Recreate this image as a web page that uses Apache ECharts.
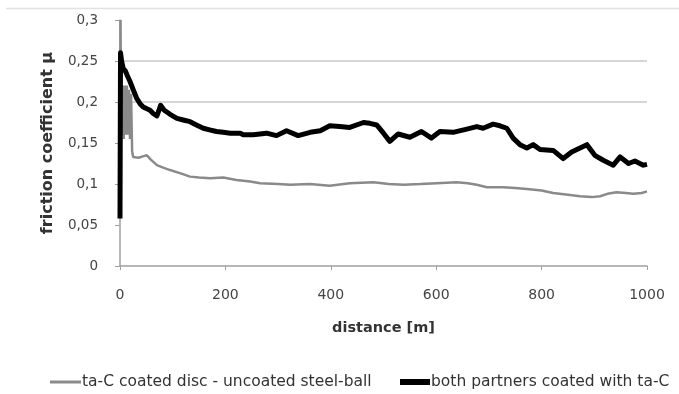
<!DOCTYPE html>
<html>
<head>
<meta charset="utf-8">
<style>
html,body{margin:0;padding:0;background:#fff;}
#chart{width:679px;height:394px;}
</style>
<script src="https://cdn.jsdelivr.net/npm/echarts@6/dist/echarts.min.js"></script>
</head>
<body>
<div id="chart"></div>
<script>
// ---- data ----
const seriesNames = ['ta-C coated disc - uncoated steel-ball', 'both partners coated with ta-C'];
const xTickValues = [0, 200, 400, 600, 800, 1000];
const yTickLabels = ['0', '0,05', '0,1', '0,15', '0,2', '0,25', '0,3'];

const distGray = [0,1,2,3,5,7,9,11,13,15,17,19,21,23,25,35,45,51,58,70,82,95,115,133,150,171,196,221,247,266,300,323,360,398,436,481,510,538,570,601,639,660,677,696,727,750,772,800,822,850,873,895,911,925,942,960,974,990,1000];
const muGray = [0.06,0.3,0.2,0.16,0.22,0.155,0.22,0.16,0.22,0.16,0.215,0.155,0.21,0.14,0.133,0.132,0.134,0.135,0.13,0.123,0.12,0.117,0.113,0.109,0.108,0.107,0.108,0.105,0.103,0.101,0.1,0.099,0.1,0.098,0.101,0.102,0.1,0.099,0.1,0.101,0.102,0.101,0.099,0.096,0.096,0.095,0.094,0.092,0.089,0.087,0.085,0.084,0.085,0.088,0.09,0.089,0.088,0.089,0.091];

const distBlack = [0,1,3,6,10,14,19,25,32,38,44,50,57,63,70,74,77,80,84,95,108,120,133,145,158,170,183,196,209,228,234,253,278,297,316,338,361,380,398,417,436,462,474,487,500,512,528,550,572,591,607,632,658,677,689,708,721,734,746,759,772,784,797,822,841,857,873,886,901,917,936,949,965,977,993,1000];
const muBlack = [0.058,0.26,0.25,0.241,0.238,0.232,0.225,0.215,0.204,0.198,0.194,0.192,0.19,0.186,0.183,0.19,0.196,0.194,0.19,0.185,0.18,0.178,0.176,0.172,0.168,0.166,0.164,0.163,0.162,0.162,0.16,0.16,0.162,0.159,0.165,0.159,0.163,0.165,0.171,0.17,0.169,0.175,0.174,0.172,0.162,0.152,0.161,0.157,0.164,0.156,0.164,0.163,0.167,0.17,0.168,0.173,0.171,0.168,0.156,0.148,0.144,0.148,0.142,0.141,0.131,0.139,0.144,0.148,0.135,0.129,0.123,0.133,0.125,0.128,0.123,0.124];

const pair = (xs, ys) => xs.map((x, i) => [x, ys[i]]);
const FONT = 'DejaVu Sans';

const chart = echarts.init(document.getElementById('chart'), null, {renderer: 'canvas'});
chart.setOption({
  animation: false,
  backgroundColor: '#fff',
  textStyle: {fontFamily: FONT},
  grid: {left: 120, right: 32, top: 20, bottom: 128, containLabel: false},
  graphic: [{
    type: 'line', shape: {x1: 6, y1: 8.5, x2: 679, y2: 8.5},
    style: {stroke: '#e2e2e2', lineWidth: 1.5}, silent: true
  }],
  legend: [{
    data: [{name: seriesNames[0], icon: 'rect'}],
    left: 45, top: 369, itemWidth: 31, itemHeight: 3, itemGap: 0,
    textStyle: {fontFamily: FONT, fontSize: 15.5, color: '#333', padding: [0, 0, 0, -4]}
  }, {
    data: [{name: seriesNames[1], icon: 'rect'}],
    left: 395, top: 369, itemWidth: 30, itemHeight: 6, itemGap: 0,
    textStyle: {fontFamily: FONT, fontSize: 15.5, color: '#333', padding: [0, 0, 0, -4]}
  }],
  xAxis: {
    type: 'value', min: 0, max: 1000, interval: 200,
    name: 'distance [m]', nameLocation: 'middle', nameGap: 55,
    nameTextStyle: {fontFamily: FONT, fontSize: 14.5, fontWeight: 'bold', color: '#333'},
    axisLine: {show: true, lineStyle: {color: '#a0a0a0', width: 1.5}},
    axisTick: {show: true, length: 4, lineStyle: {color: '#a0a0a0'}},
    axisLabel: {fontFamily: FONT, fontSize: 14, color: '#444', margin: 22,
      formatter: v => String(xTickValues[Math.round(v / 200)])},
    splitLine: {show: false}
  },
  yAxis: {
    type: 'value', min: 0, max: 0.3, interval: 0.05,
    name: 'friction coefficient μ', nameLocation: 'middle', nameGap: 64,
    nameTextStyle: {fontFamily: FONT, fontSize: 16, fontWeight: 'bold', color: '#333'},
    axisLine: {show: true, lineStyle: {color: '#a0a0a0', width: 1.5}},
    axisTick: {show: true, length: 5, lineStyle: {color: '#a0a0a0'}},
    axisLabel: {fontFamily: FONT, fontSize: 13.5, color: '#444', margin: 22,
      formatter: v => yTickLabels[Math.round(v / 0.05)]},
    splitLine: {show: true, lineStyle: {width: 1.5,
      color: ['rgba(0,0,0,0)', 'rgba(0,0,0,0)', 'rgba(0,0,0,0)', 'rgba(0,0,0,0)', '#c8c8c8', '#c8c8c8', 'rgba(0,0,0,0)']}}
  },
  series: [{
    name: seriesNames[0], type: 'line', data: pair(distGray, muGray),
    showSymbol: false, symbol: 'none',
    lineStyle: {color: '#8a8a8a', width: 2.5}, itemStyle: {color: '#8a8a8a'}, z: 2
  }, {
    name: seriesNames[1], type: 'line', data: pair(distBlack, muBlack),
    showSymbol: false, symbol: 'none',
    lineStyle: {color: '#000', width: 5, join: 'round'}, itemStyle: {color: '#000'}, z: 3
  }]
});
</script>
</body>
</html>
